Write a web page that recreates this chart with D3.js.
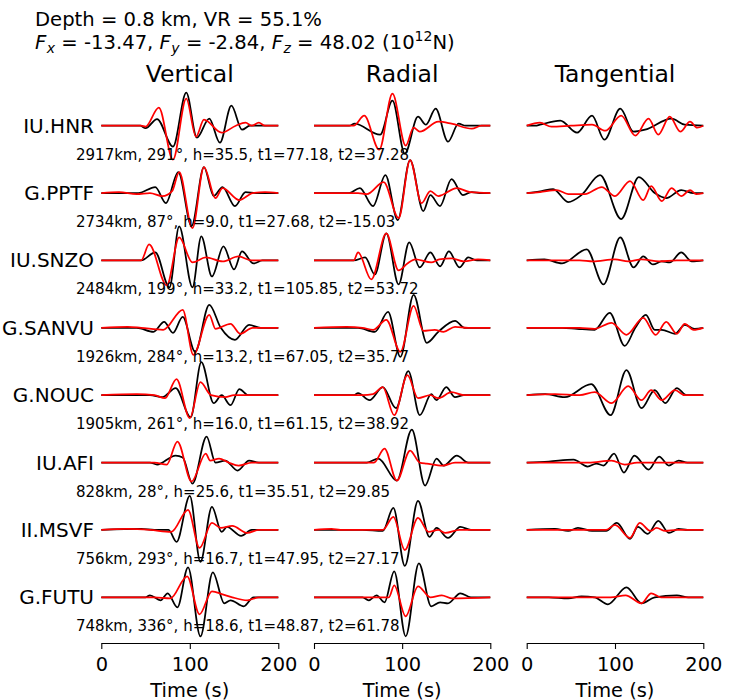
<!DOCTYPE html>
<html><head><meta charset="utf-8">
<script src="https://cdn.jsdelivr.net/npm/d3@7"></script>
<style>body{margin:0;background:#fff}svg text{font-family:"DejaVu Sans",sans-serif;fill:#000}</style>
</head><body><svg id="c" width="730" height="700"></svg>
<script>
// ---------- data ----------
const stations = ["IU.HNR","G.PPTF","IU.SNZO","G.SANVU","G.NOUC","IU.AFI","II.MSVF","G.FUTU"];
const stationInfo = [
 "2917km, 291°, h=35.5, t1=77.18, t2=37.28",
 "2734km, 87°, h=9.0, t1=27.68, t2=-15.03",
 "2484km, 199°, h=33.2, t1=105.85, t2=53.72",
 "1926km, 284°, h=13.2, t1=67.05, t2=35.77",
 "1905km, 261°, h=16.0, t1=61.15, t2=38.92",
 "828km, 28°, h=25.6, t1=35.51, t2=29.85",
 "756km, 293°, h=16.7, t1=47.95, t2=27.17",
 "748km, 336°, h=18.6, t1=48.87, t2=61.78"
];
const components = ["Vertical","Radial","Tangential"];
const timeTicks = [0,100,200];
const timeLabel = "Time (s)";
const headerLine1 = "Depth = 0.8 km, VR = 55.1%";
const forces = [["x","-13.47"],["y","-2.84"],["z","48.02"]];

// waveforms: [time (s), amplitude]; obs = black, syn = red
const HNR_Z_obs=[[0,0],[44,0],[50,-2.5],[63,6.7],[81,-21],[96,33],[108,-12],[122,7],[134,-17],[147,20],[159,-4],[168,0],[200,0]];
const HNR_Z_syn=[[0,0],[45,0],[50,-1],[65,18],[81,-34],[96,27],[107,-11],[116,6],[136,-7],[152,0],[163,3],[170,0],[178,3],[185,0],[200,0]];
const HNR_R_obs=[[0,0],[40,0],[46,2],[75,-9],[89,25],[103,-28],[118,9],[127,1],[138,17],[152,-16],[164,2],[172,0],[200,0]];
const HNR_R_syn=[[0,0],[45,0],[57,10],[74,-24],[89,32],[104,-20],[113,-2],[120,-6],[141,4],[156,2],[179,-3],[190,0],[200,0]];
const HNR_T_obs=[[0,0],[10,0],[15,1],[38,5],[57,-7],[74,10],[88,-14],[106,17],[121,-6],[134,-4],[164,7],[179,1],[200,0]];
const HNR_T_syn=[[0,0],[15,3],[28,-1],[50,0],[74,1],[89,-5],[107,10],[123,-10],[138,7],[149,-9],[162,9],[174,-6],[185,4],[193,-2],[200,0]];

const PPTF_Z_obs=[[0,0],[42,0],[61,6],[73,-10],[87,21],[102,-33],[116,26],[127,-3],[137,6],[151,-13],[163,1],[175,0],[200,0]];
const PPTF_Z_syn=[[0,0],[20,1],[40,-1],[55,0],[69,-3],[80,2],[88,21],[103,-35],[116,26],[129,-5],[137,5],[156,-7],[171,0],[185,1],[200,0]];
const PPTF_R_obs=[[0,0],[40,0],[52,5],[67,-13],[81,18],[95,-27],[109,33],[124,-18],[132,-2],[143,-13],[156,14],[169,-2],[179,1],[190,0],[200,0]];
const PPTF_R_syn=[[0,0],[50,0],[60,-1],[79,11],[96,-25],[109,33],[122,-10],[132,2],[141,-3],[162,5],[177,1],[200,0]];
const PPTF_T_obs=[[0,0],[17,2],[30,4],[47,-9],[62,-2],[83,18],[107,-26],[127,16],[145,0],[158,-5],[175,3],[189,0],[200,0]];
const PPTF_T_syn=[[0,0],[15,1],[34,3],[47,-1],[66,-1],[85,6],[100,-3],[117,12],[132,-7],[141,7],[153,-8],[164,5],[175,-3],[185,3],[192,-1],[200,0]];

const SNZO_Z_obs=[[0,0],[45,0],[61,8],[77,-27],[88,34],[103,-27],[113,24],[125,-16],[138,14],[150,-9],[159,9],[172,-3],[182,0],[200,0]];
const SNZO_Z_syn=[[0,0],[45,0],[54,16],[74,-25],[88,23],[103,-2],[118,3],[137,-1],[155,4],[170,0],[200,0]];
const SNZO_R_obs=[[0,0],[45,0],[58,3],[69,-14],[82,27],[96,-24],[108,18],[120,-7],[132,8],[143,-6],[153,9],[165,-7],[175,3],[185,0],[200,0]];
const SNZO_R_syn=[[0,0],[45,0],[50,8],[65,-19],[82,27],[96,-10],[106,-3],[115,1],[133,-2],[142,1],[156,2],[170,-1],[186,1],[200,0]];
const SNZO_T_obs=[[0,0],[20,1],[40,-3],[68,11],[87,-24],[106,23],[121,-7],[132,4],[143,-4],[153,-1],[162,-2],[175,8],[187,-1],[200,0]];
const SNZO_T_syn=[[0,0],[60,0],[75,-1],[100,1],[115,-1],[130,1],[150,-1],[170,0],[200,0]];

const SANVU_Z_obs=[[0,0],[40,0],[59,-4],[71,6],[81,-5],[92,11],[106,-24],[122,23],[135,0],[151,-12],[167,3],[180,0],[200,0]];
const SANVU_Z_syn=[[0,0],[30,1],[45,0],[70,-2],[92,18],[104,-27],[122,13],[129,-1],[146,4],[157,-6],[171,0],[200,0]];
const SANVU_R_obs=[[0,0],[50,0],[69,-4],[84,16],[98,-29],[113,33],[128,-15],[141,-4],[160,7],[171,0],[200,0]];
const SANVU_R_syn=[[0,0],[37,1],[55,0],[67,-2],[82,8],[98,-24],[113,22],[124,-3],[137,-2],[147,-4],[160,1],[175,0],[200,0]];
const SANVU_T_obs=[[0,0],[40,0],[57,-1],[77,-2],[94,15],[111,-18],[123,0],[135,13],[145,-2],[153,-2],[168,-6],[179,3],[190,-1],[200,0]];
const SANVU_T_syn=[[0,0],[60,0],[77,-1],[96,5],[113,-7],[132,10],[146,-7],[158,6],[170,-6],[179,4],[189,-2],[200,0]];

const NOUC_Z_obs=[[0,0],[55,0],[69,-2],[84,7],[101,-22],[113,33],[127,-8],[136,0],[146,-10],[156,6],[166,0],[200,0]];
const NOUC_Z_syn=[[0,0],[40,1],[60,0],[72,-3],[85,16],[100,-23],[112,13],[124,0],[140,-2],[150,0],[200,0]];
const NOUC_R_obs=[[0,0],[45,0],[50,2],[63,-5],[78,8],[93,-13],[107,24],[120,-20],[133,1],[139,-5],[150,8],[160,-2],[170,0],[200,0]];
const NOUC_R_syn=[[0,0],[55,0],[67,1],[78,8],[91,-20],[106,20],[118,-3],[132,0],[141,-3],[156,3],[170,0],[200,0]];
const NOUC_T_obs=[[0,0],[21,1],[43,-2],[73,11],[95,-20],[113,25],[130,-13],[145,5],[157,-8],[170,7],[181,0],[200,0]];
const NOUC_T_syn=[[0,0],[32,1],[60,0],[77,3],[96,-8],[115,9],[130,-5],[141,5],[153,-5],[168,5],[179,0],[200,0]];

const AFI_Z_obs=[[0,0],[55,0],[63,-2],[84,7],[92,5],[103,-21],[119,26],[129,0],[140,2],[154,-8],[167,2],[178,0],[200,0]];
const AFI_Z_syn=[[0,0],[60,0],[74,-2],[86,21],[102,-19],[118,9],[123,2],[133,4],[144,0],[155,-3],[170,0],[200,0]];
const AFI_R_obs=[[0,0],[60,0],[73,4],[94,-18],[111,33],[126,-23],[139,4],[147,-3],[162,7],[175,0],[200,0]];
const AFI_R_syn=[[0,0],[68,0],[80,14],[94,-18],[109,12],[120,0],[128,-1],[146,-3],[160,0],[200,0]];
const AFI_T_obs=[[0,0],[25,1],[53,3],[69,-4],[79,-1],[87,-3],[99,9],[110,-10],[122,7],[138,-7],[150,6],[161,-3],[172,2],[182,0],[200,0]];
const AFI_T_syn=[[0,0],[70,0],[96,2],[111,-2],[125,0],[200,0]];

const MSVF_Z_obs=[[0,0],[45,1],[60,0],[76,0],[85,-12],[100,34],[112,-32],[125,23],[136,-2],[142,3],[158,-6],[170,0],[200,0]];
const MSVF_Z_syn=[[0,0],[30,1],[55,0],[79,-2],[98,20],[111,-18],[125,7],[135,2],[148,4],[165,-3],[178,0],[200,0]];
const MSVF_R_obs=[[0,0],[55,0],[78,-1],[90,22],[103,-36],[118,29],[131,-7],[139,2],[152,-8],[166,3],[178,0],[200,0]];
const MSVF_R_syn=[[0,0],[20,1],[30,0],[78,0],[90,13],[103,-20],[118,12],[130,-2],[141,0],[149,-3],[165,0],[200,0]];
const MSVF_T_obs=[[0,0],[32,1],[47,-1],[58,2],[74,-1],[90,-1],[102,7],[117,-9],[126,3],[137,-4],[149,9],[161,-3],[172,1],[182,0],[200,0]];
const MSVF_T_syn=[[0,0],[60,0],[90,0],[100,5],[117,-8],[128,7],[140,-1],[147,2],[157,-1],[170,0],[200,0]];

const FUTU_Z_obs=[[0,0],[50,0],[55,2],[67,-3],[75,4],[86,-10],[98,30],[112,-39],[126,25],[139,-6],[146,-3],[161,-9],[172,0],[200,0]];
const FUTU_Z_syn=[[0,0],[60,0],[78,-1],[97,21],[111,-17],[125,6],[137,3],[148,0],[165,-3],[178,0],[200,0]];
const FUTU_R_obs=[[0,0],[55,0],[62,-3],[71,2],[80,-5],[91,26],[104,-39],[119,34],[133,-9],[143,-5],[152,-6],[166,4],[178,0],[200,0]];
const FUTU_R_syn=[[0,0],[60,0],[85,0],[91,12],[104,-19],[118,11],[132,0],[145,2],[156,-1],[200,0]];
const FUTU_T_obs=[[0,0],[25,0],[47,-1],[62,1],[77,0],[92,-7],[113,10],[130,-6],[145,0],[170,2],[183,0],[200,0]];
const FUTU_T_syn=[[0,0],[95,0],[112,2],[130,-6],[141,4],[152,0],[200,0]];

const traces = [
 [[HNR_Z_obs,HNR_Z_syn],[HNR_R_obs,HNR_R_syn],[HNR_T_obs,HNR_T_syn]],
 [[PPTF_Z_obs,PPTF_Z_syn],[PPTF_R_obs,PPTF_R_syn],[PPTF_T_obs,PPTF_T_syn]],
 [[SNZO_Z_obs,SNZO_Z_syn],[SNZO_R_obs,SNZO_R_syn],[SNZO_T_obs,SNZO_T_syn]],
 [[SANVU_Z_obs,SANVU_Z_syn],[SANVU_R_obs,SANVU_R_syn],[SANVU_T_obs,SANVU_T_syn]],
 [[NOUC_Z_obs,NOUC_Z_syn],[NOUC_R_obs,NOUC_R_syn],[NOUC_T_obs,NOUC_T_syn]],
 [[AFI_Z_obs,AFI_Z_syn],[AFI_R_obs,AFI_R_syn],[AFI_T_obs,AFI_T_syn]],
 [[MSVF_Z_obs,MSVF_Z_syn],[MSVF_R_obs,MSVF_R_syn],[MSVF_T_obs,MSVF_T_syn]],
 [[FUTU_Z_obs,FUTU_Z_syn],[FUTU_R_obs,FUTU_R_syn],[FUTU_T_obs,FUTU_T_syn]]
];

// ---------- layout ----------
const svg = d3.select("#c");
const colRanges = [[101.3,278.3],[314,490.3],[526.7,703.3]];
const xScales = colRanges.map(r => d3.scaleLinear().domain([0,200]).range(r));
const rowY = d3.scaleLinear().domain([0,7]).range([125.7, 597.3]);
const amp = d3.scaleLinear().domain([-40,40]).range([40,-40]);
const axisY = 643;
const lineColors = ["#000","#ff0000"];

// header
svg.append("text").attr("x",35).attr("y",25.5).attr("font-size",19.6).text(headerLine1);
// second header line: sequential, non-overlapping text pieces
const segs = [];
forces.forEach((f,i)=>{
  segs.push({t:"F", it:true, fs:19.6, dy:0});
  segs.push({t:f[0], it:true, fs:14, dy:4});
  segs.push({t:"\u00a0=\u00a0" + f[1] + (i<2 ? ",\u00a0" : "\u00a0"), it:false, fs:19.6, dy:0});
});
segs.push({t:"(10", it:false, fs:19.6, dy:0});
segs.push({t:"12", it:false, fs:14, dy:-8});
segs.push({t:"N)", it:false, fs:19.6, dy:0});
let cx = 35;
segs.forEach(s=>{
  const t = svg.append("text").attr("x",cx).attr("y",48.5+s.dy).attr("font-size",s.fs)
    .attr("font-style", s.it ? "italic" : "normal").text(s.t);
  cx += t.node().getComputedTextLength() + (s.it && s.fs>15 ? 0.5 : 0);
});

// titles
components.forEach((c,j)=>{
  svg.append("text").attr("x",(colRanges[j][0]+colRanges[j][1])/2).attr("y",82)
    .attr("text-anchor","middle").attr("font-size",23.5).text(c);
});

// traces
stations.forEach((s,i)=>{
  const base = rowY(i);
  svg.append("text").attr("x",94).attr("y",base).attr("dy","0.35em")
    .attr("text-anchor","end").attr("font-size",20).text(s);
  traces[i].forEach((pair,j)=>{
    const line = d3.line().x(d=>xScales[j](d[0])).y(d=>base+amp(d[1])).curve(d3.curveMonotoneX);
    pair.forEach((tr,k)=>{
      svg.append("path").attr("d",line(tr)).attr("fill","none")
        .attr("stroke",lineColors[k]).attr("stroke-width",1.75).attr("stroke-linejoin","round");
    });
  });
  svg.append("text").attr("x",76).attr("y",base+34).attr("font-size",15).text(stationInfo[i]);
});

// axes
xScales.forEach((x,j)=>{
  const g = svg.append("g").attr("transform",`translate(0,${axisY})`)
    .call(d3.axisBottom(x).tickValues(timeTicks).tickFormat(d3.format("d")).tickSizeInner(6).tickSizeOuter(0).tickPadding(8.5));
  g.select(".domain").attr("stroke","#000").attr("stroke-width",1.1);
  g.selectAll(".tick line").attr("stroke","#000").attr("stroke-width",1.1);
  g.selectAll(".tick text").attr("font-size",19.4).attr("font-family","DejaVu Sans").attr("fill","#000");
  svg.append("text").attr("x",(colRanges[j][0]+colRanges[j][1])/2).attr("y",696.5)
    .attr("text-anchor","middle").attr("font-size",19.4).text(timeLabel);
});
</script></body></html>
